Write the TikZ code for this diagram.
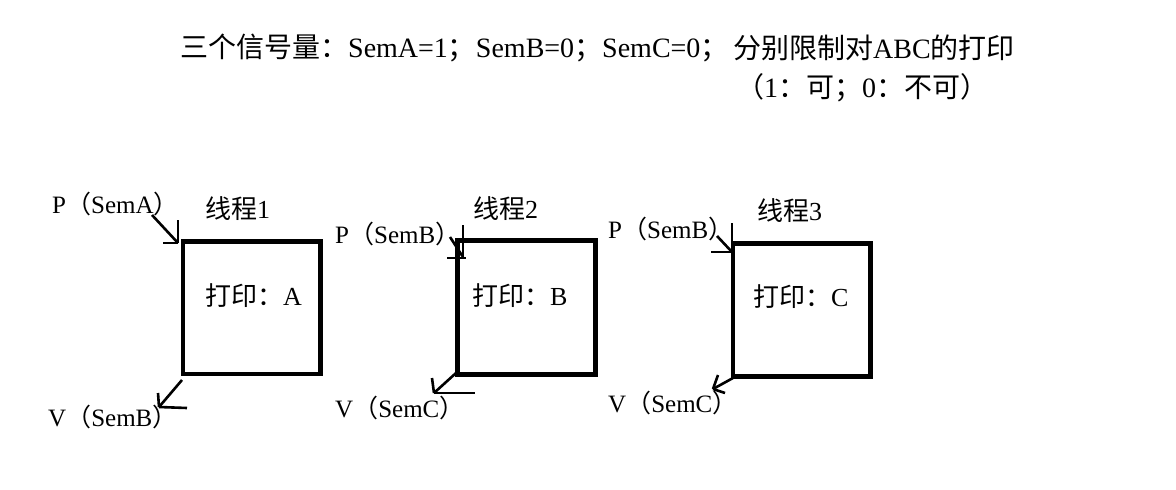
\documentclass[tikz,border=0pt]{standalone}
\usepackage{fontspec}
\setmainfont{Liberation Serif}
\newfontfamily\cjk{Noto Sans CJK SC}
\newcommand{\Cj}[1]{{\cjk #1}}
\tikzset{
  boxst/.style={draw, line width=4.5pt, minimum width=#1, inner sep=0pt, outer sep=0pt},
  lbl/.style={anchor=west, inner sep=0pt, font=\fontsize{25}{28}\selectfont},
  thr/.style={anchor=west, inner sep=0pt, font=\fontsize{26}{30}\selectfont},
  ttl/.style={anchor=west, inner sep=0pt, font=\fontsize{28}{32}\selectfont},
  pen/.style={line width=2.6pt}
}
\begin{document}
\begin{tikzpicture}[x=1pt,y=-1pt]
\useasboundingbox[fill=white] (0,0) rectangle (1176,490);
% title
\node[ttl] (t1) at (180,48) {\Cj{三个信号量：}SemA=1\Cj{；}SemB=0\Cj{；}SemC=0\Cj{；}};
\node[ttl] (t2) at (733,48) {\Cj{分别限制对}ABC\Cj{的打印}};
\node[ttl] (t3) at (736,88) {\Cj{（}1\Cj{：可；}0\Cj{：不可）}};
% boxes
\node[boxst=137.5pt, minimum height=132.5pt] (b1) at (251.75,307.75) {};
\node[boxst=138pt, minimum height=134pt] (b2) at (526.5,307.5) {};
\node[boxst=137.5pt, minimum height=133pt] (b3) at (801.75,310) {};
% box texts
\node[thr] (x1) at (205,296) {\Cj{打印：}A};
\node[thr] (x2) at (472,296) {\Cj{打印：}B};
\node[thr] (x3) at (753,297) {\Cj{打印：}C};
% thread titles
\node[thr] (h1) at (205,209) {\Cj{线程}1};
\node[thr] (h2) at (473,209) {\Cj{线程}2};
\node[thr] (h3) at (757,211) {\Cj{线程}3};
% P / V labels
\node[lbl] (p1) at (52,204) {P\Cj{（}SemA\Cj{）}};
\node[lbl] (v1) at (48,417) {V\Cj{（}SemB\Cj{）}};
\node[lbl] (p2) at (335,234) {P\Cj{（}SemB\Cj{）}};
\node[lbl] (v2) at (335,408) {V\Cj{（}SemC\Cj{）}};
\node[lbl] (p3) at (608,229) {P\Cj{（}SemB\Cj{）}};
\node[lbl] (v3) at (608,403) {V\Cj{（}SemC\Cj{）}};
% arrow coordinates
\coordinate (p1s) at (152,215); \coordinate (p1t) at (178,243);
\coordinate (v1s) at (182,380); \coordinate (v1t) at (159,407);
\coordinate (p2s) at (450,237); \coordinate (p2t) at (463,257);
\coordinate (v2s) at (456,373); \coordinate (v2t) at (434,393);
\coordinate (p3s) at (717,236); \coordinate (p3t) at (732,252);
\coordinate (v3s) at (733,378); \coordinate (v3t) at (713,389);
% arrow 1 P
\draw[pen] (p1s) -- (p1t);
\draw[pen] (p1t) -- (178,220);
\draw[pen] (p1t) -- (163,243);
% arrow 1 V
\draw[pen] (v1s) -- (v1t);
\draw[pen] (v1t) -- (187,408);
\draw[pen] (v1t) -- (158,393);
% arrow 2 P
\draw[pen] (p2s) -- (p2t);
\draw[pen] (463,225) -- (p2t);
\draw[pen] (447,258) -- (466,258);
% arrow 2 V
\draw[pen] (v2s) -- (v2t);
\draw[pen] (v2t) -- (475,393);
\draw[pen] (v2t) -- (432,378);
% arrow 3 P
\draw[pen] (p3s) -- (p3t);
\draw[pen] (732,223) -- (732,244);
\draw[pen] (711,252) -- (p3t);
% arrow 3 V
\draw[pen] (v3s) -- (v3t);
\draw[pen] (v3t) -- (718,375);
\draw[pen] (v3t) -- (725,393);
\end{tikzpicture}
\end{document}
